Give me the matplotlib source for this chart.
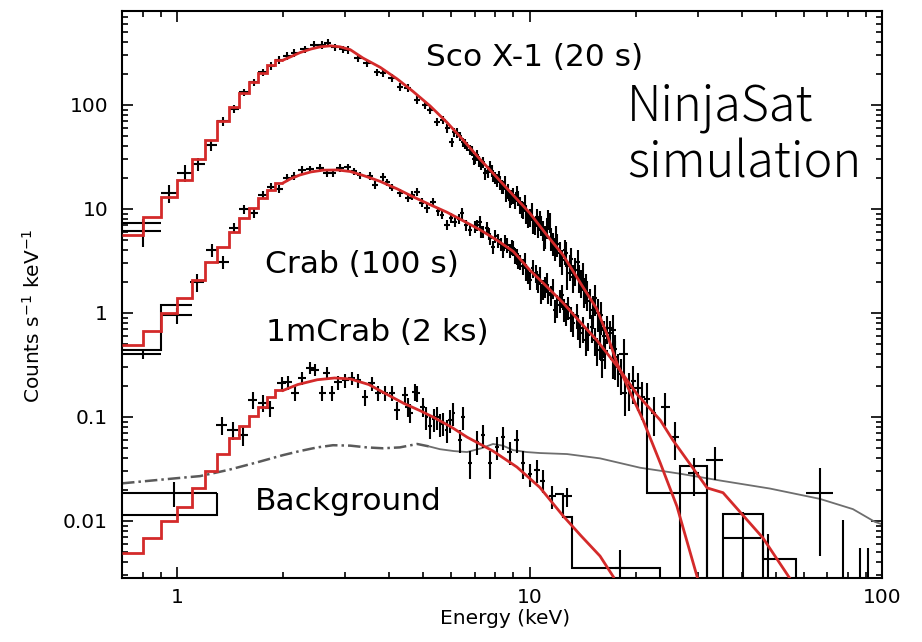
import numpy as np
import matplotlib
matplotlib.use("Agg")
import matplotlib.pyplot as plt
from matplotlib import ticker

# ---------------- axis ranges / ticks ----------------
x_range = (0.698, 100.0)
y_range = (0.00283, 800.0)
x_major = [1, 10, 100]
y_major = [0.01, 0.1, 1, 10, 100]

# ---------------- model curves (red) ----------------
model_edges = [0.698, 0.8, 0.9, 1.0, 1.1, 1.2, 1.3, 1.4, 1.5, 1.6, 1.7, 1.8, 1.9, 2.0]
sco_model_bins = [5.6, 8.4, 13, 19, 30, 46, 70, 96, 130, 166, 203, 243, 270]
crab_model_bins = [0.49, 0.67, 1.0, 1.39, 2.07, 3.09, 4.3, 6.0, 8.2, 10.2, 12.8, 15.2, 17.8]
mcrab_model_bins = [0.0049, 0.0069, 0.010, 0.0136, 0.0208, 0.030, 0.044, 0.063, 0.081, 0.102,
                    0.126, 0.155, 0.18]

sco_model_E = [2.0, 2.1, 2.23, 2.4, 2.55, 2.72, 2.9, 3.1, 3.37, 3.77,
               4.21, 4.67, 5.22, 5.83, 6.48, 7.24, 8.09, 9.0, 10.0, 11.2,
               12.45, 14.0, 15.5, 16.6, 17.7, 19.5, 21.0, 23.5, 26.2, 29.9]
sco_model_v = [270, 290, 318, 345, 362, 370, 362, 340, 282, 230,
               178, 135, 98, 68, 46, 30, 20, 13.5, 9.2, 5.6,
               3.6, 1.9, 1.1, 0.62, 0.33, 0.16, 0.093, 0.036, 0.0138, 0.0029]

crab_model_E = [2.0, 2.1, 2.23, 2.4, 2.6, 2.85, 3.1, 3.4, 3.77, 4.21,
                4.67, 5.22, 5.83, 6.48, 7.24, 8.09, 9.0, 10.0, 11.0, 12.45,
                14.0, 15.5, 17.7, 20.2, 23.5, 25.5, 31.9, 35.4, 45.9, 54.8]
crab_model_v = [17.8, 19.5, 21.2, 22.7, 23.6, 23.7, 22.9, 20.8, 18.4, 15.6,
                13.1, 11.0, 9.3, 7.7, 6.3, 5.0, 3.9, 2.6, 1.9, 1.25,
                0.80, 0.55, 0.31, 0.165, 0.093, 0.06, 0.0208, 0.0187, 0.0069, 0.0028]

mcrab_model_E = [2.0, 2.2, 2.5, 2.8, 3.1, 3.5, 3.94, 4.4, 4.89, 5.32,
                 6.0, 6.65, 7.88, 9.21, 10.7, 12.45, 14.0, 15.85, 17.3]
mcrab_model_v = [0.18, 0.205, 0.228, 0.237, 0.232, 0.205, 0.165, 0.135, 0.115, 0.10,
                 0.08, 0.064, 0.047, 0.033, 0.021, 0.0112, 0.0072, 0.0046, 0.0029]

# ---------------- background (grey) ----------------
bg_E = [0.698, 0.85, 1.0, 1.162, 1.4, 1.686, 2.0, 2.23, 2.5, 2.77,
        3.1, 3.45, 3.84, 4.29, 4.8, 5.2, 5.57, 6.1, 6.65, 7.3,
        7.88, 8.4, 8.98, 9.8, 10.7, 12.77, 15.85, 20.6, 26.7, 34.7,
        48.1, 66.7, 82.7, 95.5, 100]
bg_v = [0.023, 0.0245, 0.0258, 0.027, 0.031, 0.0366, 0.043, 0.047, 0.051, 0.0535,
        0.053, 0.051, 0.050, 0.051, 0.055, 0.052, 0.049, 0.047, 0.046, 0.050,
        0.055, 0.053, 0.048, 0.046, 0.045, 0.044, 0.040, 0.0325, 0.0285, 0.0245,
        0.0205, 0.0163, 0.013, 0.0098, 0.0093]
bg_split_E = 5.2

# ---------------- data: Sco X-1 (20 s) ----------------
sco_E = [0.80, 0.95, 1.05, 1.15, 1.25, 1.35, 1.45, 1.55, 1.65, 1.75,
         1.85, 1.95, 2.05, 2.15, 2.30, 2.45, 2.58, 2.68, 2.80, 2.95,
         3.05, 3.26, 3.46, 3.69, 3.84, 4.07, 4.29, 4.51, 4.80, 5.05,
         5.22, 5.46, 5.69, 5.85, 6.02, 6.22, 6.48, 6.65, 6.79, 6.95,
         7.10, 7.30, 7.49, 7.73, 7.90, 8.09, 8.25, 8.41, 8.60, 8.78,
         9.00, 9.21, 9.40, 9.58, 9.80, 10.03, 10.25, 10.50, 10.70, 10.90,
         11.10, 11.26, 11.40, 11.66, 11.90, 12.20, 12.60, 12.80, 13.30, 13.70,
         14.00, 14.30, 14.60, 15.10, 15.85, 16.60, 17.20, 17.50, 18.50]
sco_dE = [0.10, 0.05, 0.05, 0.05, 0.05, 0.05, 0.05, 0.05, 0.05, 0.05,
          0.05, 0.05, 0.05, 0.05, 0.07, 0.07, 0.06, 0.06, 0.06, 0.07,
          0.07, 0.08, 0.08, 0.08, 0.08, 0.09, 0.09, 0.10, 0.10, 0.10,
          0.10, 0.10, 0.10, 0.08, 0.10, 0.10, 0.10, 0.08, 0.10, 0.08,
          0.10, 0.10, 0.10, 0.10, 0.10, 0.10, 0.10, 0.10, 0.10, 0.10,
          0.10, 0.12, 0.10, 0.12, 0.10, 0.12, 0.10, 0.12, 0.10, 0.12,
          0.10, 0.12, 0.10, 0.12, 0.10, 0.15, 0.15, 0.15, 0.15, 0.20,
          0.15, 0.20, 0.20, 0.25, 0.30, 0.80, 0.35, 0.30, 0.50]
sco_rate = [6.1, 14.3, 22.2, 27.1, 41, 70, 92, 133, 166, 207,
            237, 271, 296, 316, 345, 378, 378, 395, 360, 345,
            338, 284, 253, 207, 203, 182, 149, 146, 112, 100,
            90, 69, 72, 60, 44, 54, 44, 40, 37, 30,
            33, 27, 22, 25.3, 21, 19, 18, 16.3, 14, 12.2,
            13.5, 14.3, 11, 9.8, 9.0, 8.4, 7.2, 8.4, 7.8, 6.3,
            5.5, 8.0, 7.5, 4.7, 5.5, 3.8, 4.0, 2.4, 2.2, 3.1,
            2.0, 1.65, 1.55, 1.07, 0.69, 0.72, 0.69, 0.38, 0.40]
sco_rel = [0.30, 0.20, 0.18, 0.15, 0.12, 0.10, 0.09, 0.08, 0.08, 0.08,
           0.08, 0.08, 0.08, 0.08, 0.08, 0.08, 0.08, 0.08, 0.08, 0.08,
           0.08, 0.08, 0.08, 0.08, 0.08, 0.08, 0.08, 0.08, 0.09, 0.09,
           0.09, 0.09, 0.09, 0.10, 0.10, 0.10, 0.10, 0.10, 0.11, 0.12,
           0.12, 0.12, 0.13, 0.13, 0.14, 0.14, 0.15, 0.15, 0.16, 0.16,
           0.17, 0.17, 0.18, 0.18, 0.20, 0.20, 0.20, 0.20, 0.22, 0.22,
           0.25, 0.22, 0.22, 0.25, 0.25, 0.27, 0.27, 0.30, 0.30, 0.30,
           0.30, 0.32, 0.32, 0.35, 0.35, 0.30, 0.40, 0.40, 0.40]

# Sco X-1, densely binned 6-16 keV channels
sco2_E = [6.10, 6.35, 6.57, 6.87, 7.02, 7.20, 7.40, 7.60, 7.82, 8.00,
          8.17, 8.33, 8.50, 8.69, 8.88, 9.10, 9.30, 9.50, 9.70, 9.90,
          10.14, 10.37, 10.60, 10.80, 11.00, 11.20, 11.50, 11.78, 12.00, 12.40,
          12.70, 13.00, 13.15, 13.50, 13.85, 14.15, 14.45, 14.80, 15.30, 15.60,
          16.00, 16.30]
sco2_dE = [0.08, 0.08, 0.08, 0.08, 0.08, 0.08, 0.08, 0.08, 0.08, 0.08,
           0.08, 0.08, 0.08, 0.08, 0.08, 0.10, 0.10, 0.10, 0.10, 0.10,
           0.10, 0.10, 0.10, 0.10, 0.10, 0.10, 0.12, 0.12, 0.12, 0.12,
           0.15, 0.15, 0.15, 0.15, 0.15, 0.15, 0.18, 0.18, 0.20, 0.20,
           0.20, 0.20]
sco2_rate = [55, 50, 42, 36, 31, 29, 28, 23, 23.5, 20,
             20.5, 16.5, 18, 15, 13, 12, 12.8, 10, 11.5, 8.2,
             9.5, 7.0, 6.8, 7.0, 5.0, 6.6, 5.2, 4.2, 4.6, 3.2,
             3.8, 2.8, 3.3, 2.6, 2.2, 2.3, 1.8, 1.3, 1.4, 1.0,
             0.95, 0.60]
sco2_rel = [0.10, 0.10, 0.11, 0.11, 0.12, 0.12, 0.12, 0.13, 0.13, 0.14,
            0.14, 0.15, 0.15, 0.16, 0.16, 0.17, 0.17, 0.18, 0.18, 0.20,
            0.20, 0.20, 0.22, 0.22, 0.22, 0.22, 0.25, 0.25, 0.25, 0.27,
            0.27, 0.28, 0.28, 0.30, 0.30, 0.30, 0.32, 0.32, 0.33, 0.35,
            0.35, 0.38]

# ---------------- data: Crab (100 s) ----------------
crab_E = [0.80, 1.00, 1.14, 1.26, 1.35, 1.45, 1.55, 1.65, 1.75, 1.85,
          1.95, 2.05, 2.15, 2.26, 2.38, 2.55, 2.66, 2.77, 2.90, 3.05,
          3.18, 3.30, 3.52, 3.64, 3.84, 3.95, 4.07, 4.29, 4.51, 4.65,
          4.80, 4.95, 5.11, 5.32, 5.50, 5.65, 5.83, 6.00, 6.14, 6.30,
          6.43, 6.60, 6.79, 7.00, 7.24, 7.40, 7.56, 7.75, 7.88, 8.16,
          8.41, 8.65, 8.92, 9.10, 9.27, 9.58, 9.80, 10.03, 10.40, 10.60,
          10.80, 11.10, 11.30, 11.80, 12.20, 12.70, 13.30, 13.90, 14.50, 15.00,
          15.50, 16.10, 16.90, 17.80, 18.60, 19.20, 20.30, 20.80, 24.30, 25.90,
          29.20, 33.50, 40.30, 66.70]
crab_dE = [0.10, 0.10, 0.05, 0.05, 0.05, 0.05, 0.05, 0.05, 0.05, 0.05,
           0.05, 0.05, 0.05, 0.06, 0.06, 0.07, 0.06, 0.06, 0.07, 0.07,
           0.06, 0.07, 0.07, 0.07, 0.08, 0.06, 0.08, 0.09, 0.09, 0.07,
           0.10, 0.08, 0.10, 0.10, 0.08, 0.08, 0.10, 0.08, 0.10, 0.08,
           0.10, 0.08, 0.10, 0.10, 0.10, 0.10, 0.10, 0.10, 0.10, 0.10,
           0.12, 0.10, 0.12, 0.10, 0.12, 0.12, 0.10, 0.12, 0.12, 0.10,
           0.12, 0.12, 0.12, 0.15, 0.15, 0.15, 0.20, 0.20, 0.20, 0.20,
           0.25, 0.25, 0.30, 0.30, 0.35, 0.35, 0.50, 0.40, 0.70, 0.60,
           1.00, 1.80, 5.20, 5.70]
crab_rate = [0.40, 0.95, 1.99, 4.03, 3.10, 6.60, 10.0, 9.10, 13.6, 16.3,
             15.6, 19.9, 20.8, 23.7, 24.2, 24.8, 22.2, 22.2, 24.8, 25.3,
             23.0, 21.2, 20.8, 17.0, 20.3, 18.0, 16.0, 14.3, 12.8, 13.5,
             14.6, 11.5, 10.2, 11.7, 9.5, 8.8, 7.0, 8.2, 7.5, 8.0,
             9.1, 7.0, 6.3, 6.8, 7.5, 6.0, 6.6, 5.2, 4.3, 5.0,
             4.0, 4.5, 4.3, 3.6, 3.2, 2.8, 2.5, 2.07, 2.4, 1.94,
             1.55, 1.80, 1.55, 1.07, 1.33, 1.00, 0.80, 0.64, 0.55, 0.74,
             0.44, 0.35, 0.64, 0.30, 0.17, 0.19, 0.19, 0.155, 0.126, 0.064,
             0.029, 0.0385, 0.0069, 0.0186]
crab_rel = [0.10, 0.17, 0.20, 0.15, 0.15, 0.12, 0.10, 0.10, 0.09, 0.08,
            0.08, 0.08, 0.08, 0.08, 0.08, 0.08, 0.08, 0.08, 0.08, 0.08,
            0.08, 0.08, 0.08, 0.08, 0.08, 0.08, 0.08, 0.09, 0.09, 0.09,
            0.09, 0.10, 0.10, 0.10, 0.10, 0.10, 0.11, 0.11, 0.11, 0.11,
            0.12, 0.12, 0.12, 0.13, 0.13, 0.13, 0.14, 0.14, 0.15, 0.15,
            0.16, 0.16, 0.16, 0.17, 0.17, 0.18, 0.18, 0.20, 0.20, 0.20,
            0.22, 0.22, 0.22, 0.25, 0.25, 0.25, 0.27, 0.28, 0.30, 0.30,
            0.30, 0.32, 0.30, 0.35, 0.40, 0.40, 0.40, 0.40, 0.35, 0.40,
            0.40, 0.35, 0.75, 0.75]

# Crab, densely binned 7-23 keV channels
crab2_E = [7.10, 7.30, 7.65, 8.00, 8.28, 8.53, 8.80, 9.00, 9.20, 9.40,
           9.70, 9.90, 10.20, 10.50, 10.70, 10.95, 11.20, 11.50, 11.65, 12.00,
           12.40, 12.50, 12.90, 13.10, 13.60, 13.75, 14.20, 14.70, 15.30, 15.80,
           16.40, 17.20, 17.50, 18.20, 19.70, 21.50, 22.50]
crab2_dE = [0.08, 0.08, 0.08, 0.08, 0.08, 0.08, 0.10, 0.10, 0.10, 0.10,
            0.10, 0.10, 0.10, 0.10, 0.10, 0.10, 0.12, 0.12, 0.12, 0.12,
            0.12, 0.12, 0.15, 0.15, 0.15, 0.15, 0.18, 0.18, 0.20, 0.20,
            0.25, 0.25, 0.25, 0.30, 0.35, 0.40, 0.40]
crab2_rate = [7.0, 6.1, 5.8, 5.5, 4.6, 4.9, 4.0, 4.2, 3.5, 3.1,
              3.2, 2.3, 2.7, 2.1, 2.3, 1.7, 2.0, 1.5, 1.75, 1.2,
              1.5, 1.1, 1.15, 0.9, 0.95, 0.75, 0.72, 0.62, 0.55, 0.50,
              0.43, 0.36, 0.45, 0.26, 0.22, 0.15, 0.11]
crab2_rel = [0.13, 0.13, 0.14, 0.14, 0.15, 0.15, 0.16, 0.16, 0.17, 0.17,
             0.18, 0.18, 0.20, 0.20, 0.20, 0.22, 0.22, 0.22, 0.22, 0.25,
             0.25, 0.25, 0.25, 0.27, 0.27, 0.27, 0.28, 0.30, 0.30, 0.30,
             0.32, 0.35, 0.35, 0.38, 0.40, 0.40, 0.40]

# ---------------- data: 1mCrab (2 ks) ----------------
mcrab_E = [0.98, 1.34, 1.44, 1.54, 1.64, 1.75, 1.83, 1.98, 2.06, 2.16,
           2.26, 2.38, 2.46, 2.58, 2.66, 2.75, 2.86, 3.00, 3.13, 3.26,
           3.41, 3.57, 3.72, 3.89, 4.07, 4.21, 4.43, 4.51, 4.58, 4.73,
           4.80, 4.98, 5.10, 5.22, 5.35, 5.46, 5.58, 5.69, 5.82, 5.95,
           6.08, 6.35, 6.48, 6.79, 7.10, 7.38, 7.73, 8.09, 8.41, 8.78,
           9.21, 9.58, 10.03, 10.50, 10.90, 11.60, 12.80, 18.10]
mcrab_dE = [0.32, 0.05, 0.05, 0.05, 0.05, 0.05, 0.05, 0.06, 0.06, 0.06,
            0.06, 0.06, 0.06, 0.06, 0.06, 0.06, 0.07, 0.07, 0.07, 0.07,
            0.07, 0.08, 0.08, 0.08, 0.08, 0.08, 0.08, 0.08, 0.08, 0.08,
            0.08, 0.08, 0.06, 0.06, 0.06, 0.06, 0.06, 0.06, 0.06, 0.06,
            0.06, 0.08, 0.08, 0.10, 0.10, 0.10, 0.10, 0.12, 0.12, 0.12,
            0.15, 0.15, 0.15, 0.20, 0.20, 0.25, 0.40, 0.60]
mcrab_rate = [0.0186, 0.084, 0.075, 0.067, 0.146, 0.137, 0.122, 0.210, 0.216, 0.170,
              0.237, 0.298, 0.285, 0.170, 0.266, 0.170, 0.216, 0.225, 0.237, 0.225,
              0.155, 0.210, 0.170, 0.170, 0.170, 0.117, 0.163, 0.126, 0.110, 0.175,
              0.170, 0.126, 0.100, 0.081, 0.095, 0.100, 0.085, 0.088, 0.075, 0.093,
              0.110, 0.060, 0.100, 0.036, 0.058, 0.067, 0.036, 0.051, 0.064, 0.046,
              0.060, 0.036, 0.0285, 0.031, 0.0245, 0.0172, 0.0172, 0.0035]
mcrab_rel = [0.27, 0.20, 0.20, 0.22, 0.18, 0.18, 0.18, 0.15, 0.15, 0.16,
             0.15, 0.14, 0.14, 0.16, 0.14, 0.16, 0.15, 0.15, 0.15, 0.15,
             0.17, 0.16, 0.17, 0.17, 0.17, 0.20, 0.18, 0.20, 0.20, 0.18,
             0.18, 0.20, 0.25, 0.25, 0.25, 0.25, 0.25, 0.25, 0.25, 0.25,
             0.25, 0.25, 0.25, 0.30, 0.25, 0.25, 0.30, 0.25, 0.25, 0.25,
             0.25, 0.30, 0.25, 0.25, 0.25, 0.25, 0.20, 0.50]

# ---------------- black binned-data histograms ----------------
hist_sets = [
    ([0.698, 0.9], [7.3]),                                   # Sco X-1 first bin
    ([0.698, 0.9, 1.1], [0.44, 1.18]),                       # Crab first bins
    ([0.698, 1.3, 1.301], [0.0114, 0.0186]),                 # 1mCrab first bin
    ([21.4, 21.5, 31.9, 32.0], [0.088, 0.0186, 1e-5]),       # Sco X-1 high bins
    ([26.6, 26.7, 31.9, 32.0], [1e-5, 0.034, 1e-5]),         # Crab high bins
    ([35.3, 35.4, 45.9, 56.9, 57.0], [1e-5, 0.0118, 0.0043, 1e-5]),
    ([11.8, 12.45, 13.2, 23.5, 23.6], [0.018, 0.011, 0.0035, 1e-5]),  # 1mCrab high bins
]
# bins whose error bars reach below the plot
lim_E = [45.9, 47.5, 77.5, 86.6, 91.2]
lim_top = [0.0118, 0.0075, 0.0102, 0.0055, 0.0055]

# ---------------- labels ----------------
labels = ["Sco X-1 (20 s)", "Crab (100 s)", "1mCrab (2 ks)", "Background"]
label_px = [(426, 66), (265, 273), (266, 341), (255, 510)]   # left, baseline in pixels
note_text = "NinjaSat\nsimulation"

RED = "#d42a2a"
W, H = 922, 642

fig = plt.figure(figsize=(W / 100, H / 100), dpi=100)
ax = fig.add_axes([122 / W, 1 - 578 / H, 760 / W, 567 / H])
ax.set_xscale("log")
ax.set_yscale("log")
ax.set_xlim(*x_range)
ax.set_ylim(*y_range)

# background
bgE = np.array(bg_E)
bgv = np.array(bg_v)
lo = bgE <= bg_split_E
hi = bgE >= bg_split_E
ax.plot(bgE[lo], bgv[lo], color="#5a5a5a", lw=1.8, linestyle=(0, (5, 1.6, 1, 1.6)), zorder=2)
ax.plot(bgE[hi], bgv[hi], color="#6e6e6e", lw=1.3, zorder=2)

# data crosses
for E, dE, r, rel in [(sco_E, sco_dE, sco_rate, sco_rel),
                      (sco2_E, sco2_dE, sco2_rate, sco2_rel),
                      (crab_E, crab_dE, crab_rate, crab_rel),
                      (crab2_E, crab2_dE, crab2_rate, crab2_rel),
                      (mcrab_E, mcrab_dE, mcrab_rate, mcrab_rel)]:
    E = np.array(E); dE = np.array(dE); r = np.array(r); rel = np.array(rel)
    err = r * rel
    lower = np.minimum(err, r - 1e-6)
    ax.errorbar(E, r, xerr=dE, yerr=[lower, err], fmt="none", ecolor="black",
                elinewidth=1.5, capsize=0, zorder=3)

for edges, vals in hist_sets:
    ax.stairs(vals, edges, color="black", lw=1.5, baseline=None, zorder=3)
ax.vlines(lim_E, 1e-5, lim_top, color="black", lw=1.5, zorder=3)

# models
for bins, mE, mv in [(sco_model_bins, sco_model_E, sco_model_v),
                     (crab_model_bins, crab_model_E, crab_model_v),
                     (mcrab_model_bins, mcrab_model_E, mcrab_model_v)]:
    ax.stairs(bins, model_edges, color=RED, lw=2.0, baseline=None, zorder=4)
    ax.plot(mE, mv, color=RED, lw=2.0, zorder=4, solid_joinstyle="round")

# axes styling
for s in ax.spines.values():
    s.set_linewidth(1.5)
ax.xaxis.set_major_locator(ticker.FixedLocator(x_major))
ax.yaxis.set_major_locator(ticker.FixedLocator(y_major))
ax.xaxis.set_minor_locator(ticker.LogLocator(base=10, subs=np.arange(2, 10), numticks=20))
ax.yaxis.set_minor_locator(ticker.LogLocator(base=10, subs=np.arange(2, 10), numticks=20))
fmt = ticker.FuncFormatter(lambda v, _: f"{v:g}")
ax.xaxis.set_major_formatter(fmt)
ax.yaxis.set_major_formatter(fmt)
ax.xaxis.set_minor_formatter(ticker.NullFormatter())
ax.yaxis.set_minor_formatter(ticker.NullFormatter())
ax.tick_params(which="both", direction="in", top=True, right=True, width=1.2, labelsize=14.5)
ax.tick_params(which="major", length=8)
ax.tick_params(which="minor", length=4)
ax.tick_params(axis="x", pad=7)
ax.tick_params(axis="y", pad=10)

ax.set_xlabel("Energy (keV)", fontsize=14.5)
ax.set_ylabel("Counts s$^{-1}$ keV$^{-1}$", fontsize=14.5)
ax.xaxis.set_label_coords((505 - 122) / 760, (578 - 609) / 567)
ax.yaxis.set_label_coords((44 - 122) / 760, (578 - 316) / 567)

for txt, (px, py) in zip(labels, label_px):
    fig.text(px / W, 1 - py / H, txt, fontsize=22.5, ha="left", va="baseline")

fig.text(627 / W, 1 - 177 / H, note_text, fontsize=35, ha="left", va="baseline",
         family=["Noto Sans CJK JP", "DejaVu Sans"], weight="light", linespacing=1.12)

fig.savefig("out.png", dpi=100)
